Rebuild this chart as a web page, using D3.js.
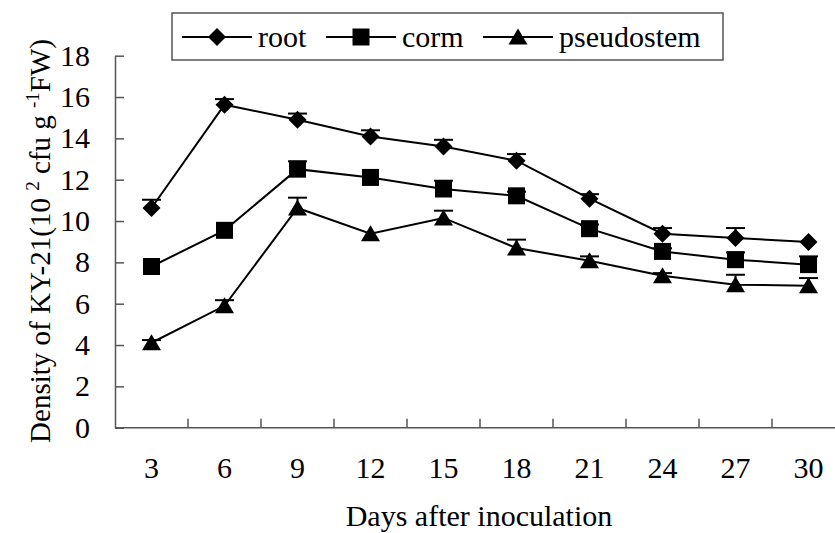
<!DOCTYPE html>
<html>
<head>
<meta charset="utf-8">
<script src="https://cdn.jsdelivr.net/npm/d3@7/dist/d3.min.js"></script>
<style>
  html, body { margin: 0; padding: 0; background: #fff; }
  svg { display: block; }
  svg text, svg tspan { font-family: "Liberation Serif" !important; }
</style>
</head>
<body>
<svg id="chart" width="835" height="533" font-family="Liberation Serif"></svg>
<script>
// ---- data ----
const days = ["3", "6", "9", "12", "15", "18", "21", "24", "27", "30"];
const seriesNames = ["root", "corm", "pseudostem"];
const rootVals = [10.63, 15.63, 14.9, 14.09, 13.61, 12.92, 11.08, 9.39, 9.18, 8.98];
const rootErr  = [0.40, 0.27, 0.30, 0.30, 0.32, 0.32, 0.22, 0.27, 0.48, 0];
const cormVals = [7.8, 9.55, 12.51, 12.11, 11.55, 11.22, 9.63, 8.53, 8.13, 7.89];
const cormErr  = [0, 0, 0.38, 0, 0.40, 0.20, 0.20, 0.15, 0.35, 0.40];
const pseudoVals = [4.11, 5.9, 10.63, 9.39, 10.15, 8.69, 8.08, 7.35, 6.92, 6.87];
const pseudoErr  = [0.13, 0.27, 0.50, 0, 0.35, 0.41, 0.21, 0.13, 0.48, 0.37];
const yTicks = [0, 2, 4, 6, 8, 10, 12, 14, 16, 18];
const xTitle = "Days after inoculation";

// ---- layout ----
const FONT = "Liberation Serif";
const svg = d3.select("#chart");
const left = 115, bandW = 73, yBottom = 427.7, yTop = 55.7;

const x = d3.scaleBand().domain(days).range([left, left + bandW * days.length]).paddingInner(0).paddingOuter(0);
const y = d3.scaleLinear().domain([0, 18]).range([yBottom, yTop]);
const cx = d => x(d) + x.bandwidth() / 2;

const series = [
  { name: seriesNames[0], vals: rootVals, err: rootErr, shape: "diamond" },
  { name: seriesNames[1], vals: cormVals, err: cormErr, shape: "square" },
  { name: seriesNames[2], vals: pseudoVals, err: pseudoErr, shape: "triangle" }
];

const shapes = {
  diamond: "M0,-9L9,0L0,9L-9,0Z",
  square: "M-8.5,-8.5H8.5V8.5H-8.5Z",
  triangle: "M0,-8.5L9.5,7.5L-9.5,7.5Z"
};

const axisColor = "#555";

// y axis
const yAxis = d3.axisLeft(y).tickValues(yTicks).tickSize(-9).tickSizeOuter(0).tickPadding(25).tickFormat(d3.format("d"));
const gy = svg.append("g").attr("transform", `translate(${left},0)`).call(yAxis)
  .attr("font-family", FONT).attr("font-size", 30);
gy.select(".domain").attr("stroke", axisColor).attr("stroke-width", 1.5);
gy.selectAll(".tick line").attr("stroke", axisColor).attr("stroke-width", 1.5);
gy.selectAll(".tick text").attr("font-family", FONT).attr("font-size", 30).attr("fill", "#000");

// x axis line and boundary ticks
svg.append("line").attr("x1", left).attr("x2", x.range()[1]).attr("y1", yBottom).attr("y2", yBottom)
  .attr("stroke", axisColor).attr("stroke-width", 1.5);
svg.append("g").selectAll("line").data(days.slice(1)).join("line")
  .attr("x1", d => x(d)).attr("x2", d => x(d)).attr("y1", yBottom).attr("y2", yBottom - 9)
  .attr("stroke", axisColor).attr("stroke-width", 1.5);
svg.append("g").selectAll("text").data(days).join("text")
  .attr("x", d => cx(d)).attr("y", 478).attr("text-anchor", "middle")
  .attr("font-family", FONT).attr("font-size", 30).text(d => d);

// axis titles
svg.append("text").attr("x", 479).attr("y", 526).attr("text-anchor", "middle")
  .attr("font-family", FONT).attr("font-size", 30).text(xTitle);

const yt = svg.append("text").attr("transform", "translate(50,241) rotate(-90)").attr("text-anchor", "middle")
  .attr("font-family", FONT).attr("font-size", 29);
yt.append("tspan").text("Density of KY-21(10 ");
yt.append("tspan").attr("font-size", 19).attr("dy", -11).text("2");
yt.append("tspan").attr("dy", 11).text(" cfu g ");
yt.append("tspan").attr("font-size", 19).attr("dy", -11).text("-1");
yt.append("tspan").attr("dy", 11).text("FW)");

// lines
const line = d3.line().x((v, i) => cx(days[i])).y(v => y(v));
svg.append("g").selectAll("path").data(series).join("path")
  .attr("d", s => line(s.vals)).attr("fill", "none").attr("stroke", "#000").attr("stroke-width", 2);

// error bars (plus direction)
series.forEach(s => {
  const g = svg.append("g").attr("stroke", "#000").attr("stroke-width", 2);
  s.vals.forEach((v, i) => {
    if (!s.err[i]) return;
    const xx = cx(days[i]);
    g.append("line").attr("x1", xx).attr("x2", xx).attr("y1", y(v)).attr("y2", y(v + s.err[i]));
    g.append("line").attr("x1", xx - 9.5).attr("x2", xx + 9.5).attr("y1", y(v + s.err[i])).attr("y2", y(v + s.err[i]));
  });
});

// markers
series.forEach(s => {
  svg.append("g").selectAll("path").data(s.vals).join("path")
    .attr("transform", (v, i) => `translate(${cx(days[i])},${y(v)})`)
    .attr("d", shapes[s.shape]).attr("fill", "#000");
});

// legend
const lg = svg.append("g");
lg.append("rect").attr("x", 172).attr("y", 13).attr("width", 551).attr("height", 47)
  .attr("fill", "#fff").attr("stroke", axisColor).attr("stroke-width", 1.5);
const legendText = [258, 402, 559];
series.forEach((s, i) => {
  const tx = legendText[i];
  const mx = tx - 41;
  lg.append("line").attr("x1", mx - 35).attr("x2", mx + 35).attr("y1", 37).attr("y2", 37).attr("stroke", "#000").attr("stroke-width", 2);
  lg.append("path").attr("transform", `translate(${mx},37)`).attr("d", shapes[s.shape]).attr("fill", "#000");
  lg.append("text").attr("x", tx).attr("y", 47).attr("font-family", FONT).attr("font-size", 30).text(s.name);
});
</script>
</body>
</html>
